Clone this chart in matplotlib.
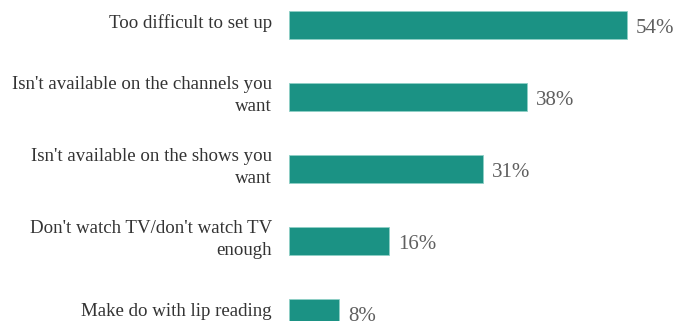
import matplotlib.pyplot as plt

reasons = [
    "Too difficult to set up",
    "Isn't available on the channels you\nwant",
    "Isn't available on the shows you\nwant",
    "Don't watch TV/don't watch TV\nenough",
    "Make do with lip reading",
]
shares = [54, 38, 31, 16, 8]

fig = plt.figure(figsize=(6.89, 3.21), dpi=100)
ax = fig.add_axes([289 / 689, 0, 400 / 689, 1])

pos = list(range(len(reasons)))
ax.barh(pos, shares, height=0.39, color='#1b9284', edgecolor='#8fd0c6', linewidth=0.6)

for p, v in zip(pos, shares):
    ax.text(v + 1.4, p + 0.05, f"{v}%", va='center', ha='left',
            fontsize=15, color='#5f5f5f', family='Liberation Serif')

for p, lab in zip(pos, reasons):
    ax.text(-2.7, p - 0.02, lab, ha='right', va='center', fontsize=13.6,
            color='#333333', family='Liberation Serif', linespacing=1.38)

ax.set_xlim(0, 63.9)
ax.set_ylim(4.111, -0.347)
ax.axis('off')

fig.savefig('out.png', dpi=100)
